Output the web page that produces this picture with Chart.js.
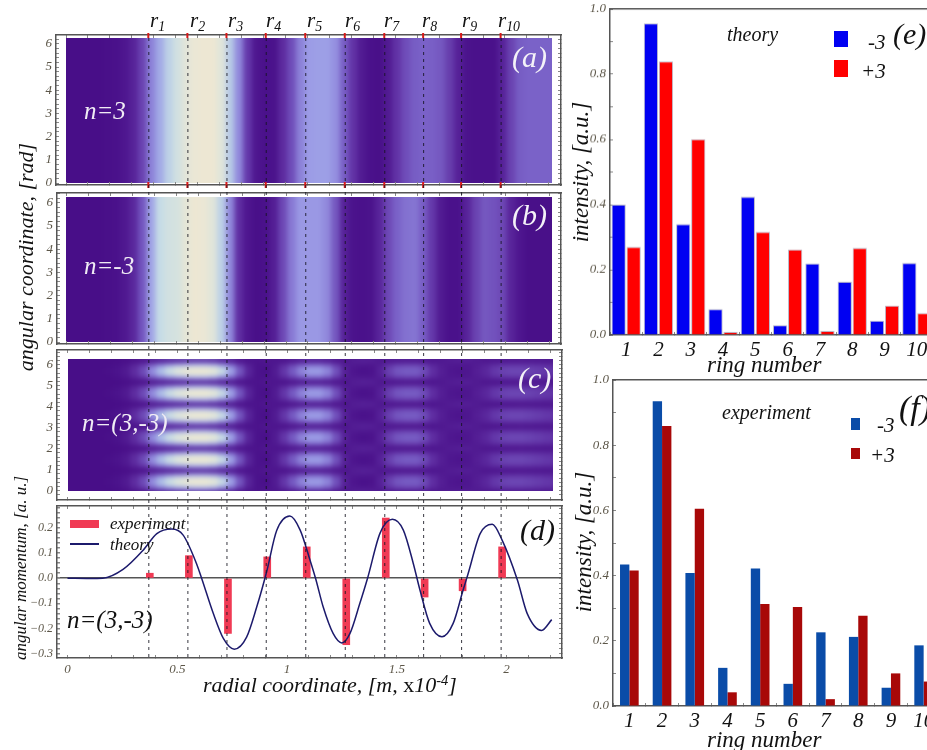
<!DOCTYPE html>
<html>
<head>
<meta charset="utf-8">
<title>rings</title>
<script src="https://cdn.jsdelivr.net/npm/chart.js@4"></script>
<style>
  html, body { margin: 0; padding: 0; background: #fff; width: 927px; height: 750px; overflow: hidden; }
  canvas { position: absolute; display: block; }
  .heat { position: absolute; overflow: hidden; background: #480e88; }
  .heat canvas { filter: blur(2.5px); }
  .lbl { position: absolute; font-family: "Liberation Serif", serif; font-style: italic; white-space: nowrap; line-height: 1; z-index: 20; }
  .lbl sub { font-size: 66%; vertical-align: -0.35em; line-height: 0; }
  .lbl sup { font-size: 66%; vertical-align: 0.5em; line-height: 0; font-style: italic; }
  .swatch { position: absolute; z-index: 20; }
</style>
</head>
<body>
<script>
// ── Data ──
var ringNames = ['1', '2', '3', '4', '5', '6', '7', '8', '9', '10'];
var theoryMinus = [0.40, 0.956, 0.34, 0.079, 0.424, 0.03, 0.219, 0.163, 0.044, 0.221];
var theoryPlus = [0.27, 0.839, 0.601, 0.009, 0.316, 0.262, 0.012, 0.267, 0.09, 0.067];
var exptMinus = [0.434, 0.935, 0.408, 0.117, 0.422, 0.068, 0.226, 0.212, 0.056, 0.186];
var exptPlus = [0.416, 0.859, 0.605, 0.042, 0.313, 0.304, 0.021, 0.277, 0.10, 0.075];

var ringRadii = [0.375, 0.553, 0.731, 0.91, 1.09, 1.27, 1.45, 1.627, 1.80, 1.98];
var momentumExpt = [0.02, 0.09, -0.22, 0.085, 0.125, -0.265, 0.24, -0.075, -0.05, 0.125];
var theoryR = [0, 0.1, 0.16, 0.253, 0.345, 0.407, 0.475, 0.527, 0.587, 0.611, 0.664, 0.71, 0.76, 0.816, 0.862, 0.907, 0.953, 1.013, 1.06, 1.105, 1.13, 1.165, 1.21, 1.25, 1.287, 1.332, 1.367, 1.424, 1.48, 1.53, 1.575, 1.606, 1.65, 1.706, 1.757, 1.802, 1.825, 1.88, 1.935, 1.98, 2.05, 2.094, 2.16, 2.206];
var theoryL = [0, -0.001, 0, 0.035, 0.112, 0.178, 0.196, 0.172, 0.06, 0, -0.14, -0.24, -0.283, -0.235, -0.115, 0.025, 0.19, 0.248, 0.192, 0.072, 0, -0.115, -0.22, -0.258, -0.22, -0.1, 0, 0.18, 0.235, 0.192, 0.06, -0.048, -0.18, -0.233, -0.18, -0.048, 0.018, 0.178, 0.215, 0.152, -0.008, -0.14, -0.208, -0.165];

// heat map columns, radial coordinate
var heatR = [-0.05, -0.01, 0.03, 0.07, 0.11, 0.15, 0.19, 0.23, 0.27, 0.31,
  0.35, 0.39, 0.43, 0.47, 0.51, 0.55, 0.59, 0.63, 0.67, 0.71,
  0.75, 0.79, 0.83, 0.87, 0.91, 0.95, 0.99, 1.03, 1.07, 1.11,
  1.15, 1.19, 1.23, 1.27, 1.31, 1.35, 1.39, 1.43, 1.47, 1.51,
  1.55, 1.59, 1.63, 1.67, 1.71, 1.75, 1.79, 1.83, 1.87, 1.91,
  1.95, 1.99, 2.03, 2.07, 2.11, 2.15, 2.19, 2.23, 2.27];
var heatA = [0, 0, 0, 0, 0, 0, 1, 2, 5, 13,
  28, 48, 60, 72, 80, 90, 96, 98, 98, 88,
  70, 50, 24, 5, 2, 3, 18, 32, 48, 55,
  56, 56, 52, 38, 22, 8, 2, 1, 8, 22,
  32, 38, 40, 39, 36, 26, 12, 3, 2, 2,
  2, 12, 28, 38, 40, 40, 40, 40, 40];
var heatB = [0, 0, 0, 0, 0, 0, 1, 2, 6, 16,
  35, 58, 75, 80, 82, 92, 98, 96, 88, 72,
  50, 20, 5, 1, 2, 10, 30, 46, 54, 54,
  54, 50, 36, 12, 3, 2, 3, 14, 30, 40,
  44, 45, 38, 24, 8, 2, 2, 14, 28, 36,
  34, 30, 14, 5, 1, 1, 1, 1, 1];
var heatCrest = [0, 0, 0, 0, 0, 0, 1, 3, 8, 20,
  32, 52, 68, 80, 90, 98, 100, 100, 94, 78,
  58, 36, 14, 3, 1, 8, 24, 38, 50, 56,
  56, 50, 34, 12, 4, 2, 3, 12, 28, 36,
  38, 38, 32, 20, 10, 5, 4, 5, 10, 16,
  24, 28, 30, 30, 28, 26, 24, 22, 20];
var heatHigh = [0, 0, 0, 0, 0, 0, 1, 3, 7, 18,
  30, 48, 62, 72, 80, 84, 86, 86, 82, 70,
  53, 33, 13, 3, 2, 8, 22, 35, 46, 52,
  52, 46, 31, 11, 5, 3, 4, 12, 26, 34,
  36, 36, 30, 19, 10, 6, 5, 6, 10, 15,
  23, 27, 28, 28, 27, 25, 23, 21, 19];
var heatLow = [0, 0, 0, 0, 0, 0, 0, 1, 4, 11,
  19, 30, 38, 44, 48, 52, 54, 54, 50, 42,
  32, 19, 8, 3, 4, 6, 14, 22, 29, 33,
  33, 29, 20, 8, 8, 8, 7, 8, 17, 21,
  22, 22, 19, 12, 8, 7, 7, 6, 8, 11,
  14, 16, 17, 17, 16, 15, 14, 13, 12];
var heatTrough = [0, 0, 0, 0, 0, 0, 0, 0, 0, 0,
  0, 0, 0, 0, 0, 0, 0, 0, 0, 0,
  0, 0, 2, 4, 6, 4, 0, 0, 0, 0,
  0, 0, 1, 4, 10, 12, 12, 6, 2, 1,
  1, 1, 1, 2, 6, 10, 12, 12, 8, 3,
  2, 2, 2, 3, 3, 3, 3, 3, 3];
var rowKinds = ['H', 'L', 'T', 'L', 'H', 'C', 'H', 'L', 'T', 'L', 'H', 'C', 'H', 'L',
  'T', 'L', 'H', 'C', 'H', 'L', 'T', 'L', 'H', 'C', 'H', 'L', 'T', 'L',
  'H', 'C', 'H', 'L', 'T', 'L', 'H', 'C', 'H', 'L', 'T', 'L', 'H', 'L'];

// level -> colour, purple to cream
var paletteLevels = [0, 20, 40, 55, 65, 75, 85, 100];
var paletteColors = [[72, 14, 136], [95, 46, 162], [122, 98, 200], [156, 156, 230], [168, 184, 230], [198, 220, 230], [220, 228, 220], [240, 232, 210]];

function levelColor(v) {
    for (var i = 1; i < paletteLevels.length; i++) {
        if (v <= paletteLevels[i]) {
            var t = (v - paletteLevels[i - 1]) / (paletteLevels[i] - paletteLevels[i - 1]);
            var a = paletteColors[i - 1], b = paletteColors[i];
            return 'rgb(' + Math.round(a[0] + (b[0] - a[0]) * t) + ',' + Math.round(a[1] + (b[1] - a[1]) * t) + ',' + Math.round(a[2] + (b[2] - a[2]) * t) + ')';
        }
    }
    return 'rgb(240,232,210)';
}

// ── Helpers ──
Chart.defaults.font.family = '"Liberation Serif", serif';
var FRAME = '#555';
var TICK_LABEL = '#5c5648';
var PX_PER_R = 219.5;

function addCanvas(left, top, w, h, z, parent) {
    var c = document.createElement('canvas');
    c.width = w; c.height = h;
    c.style.left = left + 'px'; c.style.top = top + 'px';
    c.style.width = w + 'px'; c.style.height = h + 'px';
    c.style.zIndex = z;
    (parent || document.body).appendChild(c);
    return c;
}

function label(html, x, y, size, color, rotate) {
    var d = document.createElement('div');
    d.className = 'lbl';
    d.innerHTML = html;
    d.style.left = x + 'px'; d.style.top = y + 'px';
    d.style.fontSize = size + 'px';
    d.style.color = color || '#111';
    d.style.transform = rotate ? 'translate(-50%,-50%) rotate(-90deg)' : 'translateY(-50%)';
    document.body.appendChild(d);
}

function swatch(x, y, w, h, color) {
    var d = document.createElement('div');
    d.className = 'swatch';
    d.style.cssText += 'left:' + x + 'px;top:' + y + 'px;width:' + w + 'px;height:' + h + 'px;background:' + color;
    document.body.appendChild(d);
}

function insideOnly(s) {
    s.ticks = s.ticks.filter(function(t) { return t.value >= s.min - 1e-9 && t.value <= s.max + 1e-9; });
}

// keep the plot area where we asked: no room reserved for half labels
function noPadding(s) {
    s.paddingTop = 0; s.paddingBottom = 0; s.paddingLeft = 0; s.paddingRight = 0;
}

// linear axis with inward ticks
function linAxis(pos, min, max, step, fmt, size) {
    return {
        type: 'linear', position: pos, min: min, max: max, offset: false,
        axis: (pos === 'left' || pos === 'right') ? 'y' : 'x',
        border: { color: FRAME, width: 1.5 },
        grid: { drawOnChartArea: false, offset: false, tickLength: -3, color: '#888', tickColor: '#888', lineWidth: 1 },
        ticks: {
            stepSize: step, autoSkip: false, includeBounds: false, maxRotation: 0,
            display: !!fmt, padding: 7, color: TICK_LABEL,
            font: { size: 13, style: 'italic' },
            callback: fmt || function() { return ''; }
        },
        afterBuildTicks: insideOnly,
        afterFit: function(s) {
            if (pos === 'left' || pos === 'right') s.width = size; else s.height = size;
            noPadding(s);
        }
    };
}

function intLabel(v) { return Math.abs(v - Math.round(v)) < 1e-6 ? String(Math.round(v)) : ''; }

// ── Heat maps (a) (b) (c) ──
function heatPanel(L, T, R, B, x0, y0, unit, yMin, yMax, datasets) {
    var wrap = document.createElement('div');
    wrap.className = 'heat';
    wrap.style.cssText += 'left:' + L + 'px;top:' + T + 'px;width:' + (R - L) + 'px;height:' + (B - T) + 'px;z-index:1';
    document.body.appendChild(wrap);
    var rMin = -0.07, rMax = 2.29;
    var w = Math.round((rMax - rMin) * PX_PER_R), h = Math.round((yMax - yMin) * unit);
    var c = addCanvas(Math.round(x0 + rMin * PX_PER_R - L), Math.round(y0 - yMax * unit - T), w, h, 1, wrap);
    new Chart(c.getContext('2d'), {
        type: 'bar',
        data: { datasets: datasets },
        options: {
            responsive: false, animation: false, devicePixelRatio: 1,
            layout: { padding: 0 },
            plugins: { legend: { display: false }, tooltip: { enabled: false } },
            scales: {
                x: { type: 'linear', display: false, min: rMin, max: rMax, offset: false, grid: { offset: false } },
                y: { type: 'linear', display: false, min: yMin, max: yMax }
            }
        }
    });
}

function columnSet(values, y0, y1) {
    return {
        data: heatR.map(function(r) { return { x: r, y: [y0, y1] }; }),
        backgroundColor: values.map(levelColor),
        barThickness: 10, grouped: false, borderWidth: 0
    };
}

heatPanel(66, 38, 552, 183, 66, 183, 23.2, -0.5, 6.8, [columnSet(heatA, -0.5, 6.8)]);
heatPanel(66, 197, 552, 342, 66, 342, 23.2, -0.5, 6.8, [columnSet(heatB, -0.5, 6.8)]);

var rowTable = { C: heatCrest, H: heatHigh, L: heatLow, T: heatTrough };
var ROW_H = 0.175;
heatPanel(68, 359, 553, 490.7, 67.5, 490.7, 21, -0.56, 6.8, rowKinds.map(function(k, i) {
    var y0 = -0.56 + i * ROW_H;
    return columnSet(rowTable[k], y0, y0 + ROW_H + 0.03);
}));

// ── Frames (a) (b) (c) ──
function framePanel(fL, fT, fR, fB, x0, y0, unit, datasets) {
    var axL = 30, axB = 6;
    var c = addCanvas(fL - axL, fT - 2, fR - fL + axL + 2, fB - fT + 2 + axB, 5);
    var xMin = (fL - x0) / PX_PER_R, xMax = (fR - x0) / PX_PER_R;
    var yMin = (y0 - fB) / unit, yMax = (y0 - fT) / unit;
    new Chart(c.getContext('2d'), {
        type: 'scatter',
        data: { datasets: datasets ? datasets(xMin, xMax, yMin, yMax) : [] },
        options: {
            responsive: false, animation: false, devicePixelRatio: 1,
            layout: { autoPadding: false, padding: { top: 2, right: 2, left: 0, bottom: axB } },
            plugins: { legend: { display: false }, tooltip: { enabled: false } },
            scales: {
                x: linAxis('bottom', xMin, xMax, 0.1, null, 0),
                xTop: linAxis('top', xMin, xMax, 0.1, null, 0),
                y: linAxis('left', yMin, yMax, 0.2, intLabel, axL),
                yRight: linAxis('right', yMin, yMax, 0.2, null, 0)
            }
        }
    });
}

framePanel(56, 35, 561, 185, 66, 183, 23.2, function(xMin, xMax, yMin, yMax) {
    var marks = [];
    ringRadii.forEach(function(r) { marks.push({ x: r, y: yMax }); marks.push({ x: r, y: yMin }); });
    return [{ data: marks, pointStyle: 'line', rotation: 90, pointRadius: 3, borderColor: '#d81818', borderWidth: 2, clip: false }];
});
framePanel(57, 193, 561, 344, 66.5, 342, 23.2);
framePanel(57, 350, 562, 500, 67.5, 490.7, 21);

// ── Panel (d) ──
var dMinR = (57 - 67.5) / PX_PER_R, dMaxR = (562 - 67.5) / PX_PER_R;
var dTop = (578 - 506) / 250, dBottom = (578 - 657.5) / 250;
var dAxisX = linAxis('bottom', dMinR, dMaxR, 0.1, function(v) {
    var n = Math.round(v * 10);
    if (n % 5 !== 0 || n < 0) return '';
    return n % 10 === 0 ? String(n / 10) : (n / 10).toFixed(1);
}, 22);
var dAxisY = linAxis('left', dBottom, dTop, 0.02, function(v) {
    var n = Math.round(v * 100);
    if (n % 10 !== 0) return '';
    return (n < 0 ? '\u2212' : '') + (Math.abs(n) / 100).toFixed(1);
}, 37);
dAxisY.ticks.font = { size: 12, style: 'italic' };
dAxisY.grid.drawOnChartArea = true;
dAxisY.grid.color = function(ctx) { return ctx.tick && Math.abs(ctx.tick.value) < 1e-6 ? '#555' : 'rgba(0,0,0,0)'; };
dAxisY.grid.lineWidth = 1.5;
dAxisY.grid.tickColor = '#888';

new Chart(addCanvas(20, 504, 544, 176, 5).getContext('2d'), {
    type: 'bar',
    data: {
        datasets: [
            {
                type: 'line', label: 'theory', order: 1,
                data: theoryR.map(function(r, i) { return { x: r, y: theoryL[i] }; }),
                borderColor: '#1c1a6c', borderWidth: 1.5, pointRadius: 0, cubicInterpolationMode: 'monotone', fill: false
            },
            {
                label: 'experiment', order: 2,
                data: ringRadii.map(function(r, i) { return { x: r, y: momentumExpt[i] }; }),
                backgroundColor: '#f03a54', barThickness: 7, grouped: false, borderWidth: 0
            }
        ]
    },
    options: {
        responsive: false, animation: false, devicePixelRatio: 1,
        layout: { autoPadding: false, padding: { top: 2, right: 2, left: 0, bottom: 0 } },
        plugins: { legend: { display: false }, tooltip: { enabled: false } },
        scales: {
            x: dAxisX,
            xTop: linAxis('top', dMinR, dMaxR, 0.1, null, 0),
            y: dAxisY,
            yRight: linAxis('right', dBottom, dTop, 0.02, null, 0)
        }
    }
});

// ── Ring position dashes, through all four panels ──
var dashX0 = 66.5;
new Chart(addCanvas(57, 35, 505, 622, 8).getContext('2d'), {
    type: 'scatter',
    data: {
        datasets: ringRadii.map(function(r) {
            return { data: [{ x: r, y: 0 }, { x: r, y: 1 }], showLine: true, pointRadius: 0, borderColor: 'rgba(20,20,30,0.85)', borderWidth: 1, borderDash: [3, 4] };
        })
    },
    options: {
        responsive: false, animation: false, devicePixelRatio: 1,
        layout: { autoPadding: false, padding: 0 },
        plugins: { legend: { display: false }, tooltip: { enabled: false } },
        scales: {
            x: { type: 'linear', display: false, min: (57 - dashX0) / PX_PER_R, max: (562 - dashX0) / PX_PER_R },
            y: { type: 'linear', display: false, min: 0, max: 1 }
        }
    }
});

// ── Panels (e) (f) ──
function ringChart(left, top, plotW, plotH, minusVals, plusVals, minusColor, plusColor, catPct, barPct, edge) {
    var axL = 42, axB = 26, padT = 8;
    var yAxis = linAxis('left', 0, 1, 0.1, function(v) {
        var n = Math.round(v * 10);
        return n % 2 === 0 ? (n / 10).toFixed(1) : '';
    }, axL);
    var topAxis = {
        type: 'category', position: 'top', axis: 'x',
        border: { color: FRAME, width: 1.5 },
        grid: { drawOnChartArea: false, drawTicks: false },
        ticks: { display: false },
        afterFit: function(s) { s.height = 0; noPadding(s); }
    };
    new Chart(addCanvas(left - axL, top - padT, plotW + axL, plotH + padT + axB, 5).getContext('2d'), {
        type: 'bar',
        data: {
            labels: ringNames,
            datasets: [
                { label: '-3', data: minusVals, backgroundColor: minusColor, borderColor: edge, borderWidth: edge ? 1 : 0 },
                { label: '+3', data: plusVals, backgroundColor: plusColor, borderColor: edge, borderWidth: edge ? 1 : 0 }
            ]
        },
        options: {
            responsive: false, animation: false, devicePixelRatio: 1,
            categoryPercentage: catPct, barPercentage: barPct,
            layout: { autoPadding: false, padding: { top: padT } },
            plugins: { legend: { display: false }, tooltip: { enabled: false } },
            scales: {
                x: {
                    type: 'category', position: 'bottom',
                    border: { color: FRAME, width: 1.5 },
                    grid: { drawOnChartArea: false, tickLength: -3, color: '#888', offset: true },
                    ticks: { color: '#111', autoSkip: false, maxRotation: 0, padding: 6, font: { size: 21, style: 'italic' } },
                    afterFit: function(s) { s.height = axB; noPadding(s); }
                },
                xTop: topAxis,
                y: yAxis
            }
        }
    });
}

ringChart(610, 9, 323, 325.5, theoryMinus, theoryPlus, '#0000f2', '#ff0000', 0.93, 0.95, 'rgba(170,170,190,0.8)');
ringChart(612.5, 380, 327, 326, exptMinus, exptPlus, '#0a4ca8', '#a80808', 0.571, 1, null);

// ── Text ──
var rLabelX = [150, 190, 228, 266, 307, 345, 384, 422, 462, 498];
rLabelX.forEach(function(x, i) { label('r<sub>' + (i + 1) + '</sub>', x, 20, 21); });
label('(a)', 512, 57, 30, '#f4f2f8');
label('(b)', 512, 215, 30, '#f4f2f8');
label('(c)', 518, 378, 30, '#f4f2f8');
label('(d)', 520, 530, 30);
label('n=3', 84, 110, 25, '#f0ecf4');
label('n=-3', 84, 265, 25, '#f0ecf4');
label('n=(3,-3)', 82, 422, 25, '#f0ecf4');
label('n=(3,-3)', 67, 619, 25);
label('angular coordinate, [rad]', 26, 257, 22, '#111', true);
label('angular momentum, [a. u.]', 20, 568, 17, '#111', true);
label('radial coordinate, [m, <span style="font-style:normal">x</span>10<sup>-4</sup>]', 203, 685, 22);

swatch(70, 520, 29, 8, '#f03a54');
swatch(70, 543, 29, 1.5, '#1c1a6c');
label('experiment', 110, 523, 17);
label('theory', 110, 544, 17);

label('theory', 727, 34, 20);
swatch(834, 31, 14, 16, '#0000f2');
swatch(834, 60, 14, 17, '#ff0000');
label('-3', 868, 42, 21);
label('+3', 861, 71, 21);
label('(e)', 893, 34, 30);
label('ring number', 707, 364, 23);
label('intensity, [a.u.]', 580, 172, 23, '#111', true);

label('experiment', 722, 412, 20);
swatch(851, 418, 9, 12, '#0a4ca8');
swatch(851, 448, 9, 11, '#a80808');
label('-3', 877, 425, 21);
label('+3', 870, 455, 21);
label('(f)', 899, 408, 34);
label('ring number', 707, 739, 23);
label('intensity, [a.u.]', 583, 542, 23, '#111', true);
</script>
</body>
</html>
